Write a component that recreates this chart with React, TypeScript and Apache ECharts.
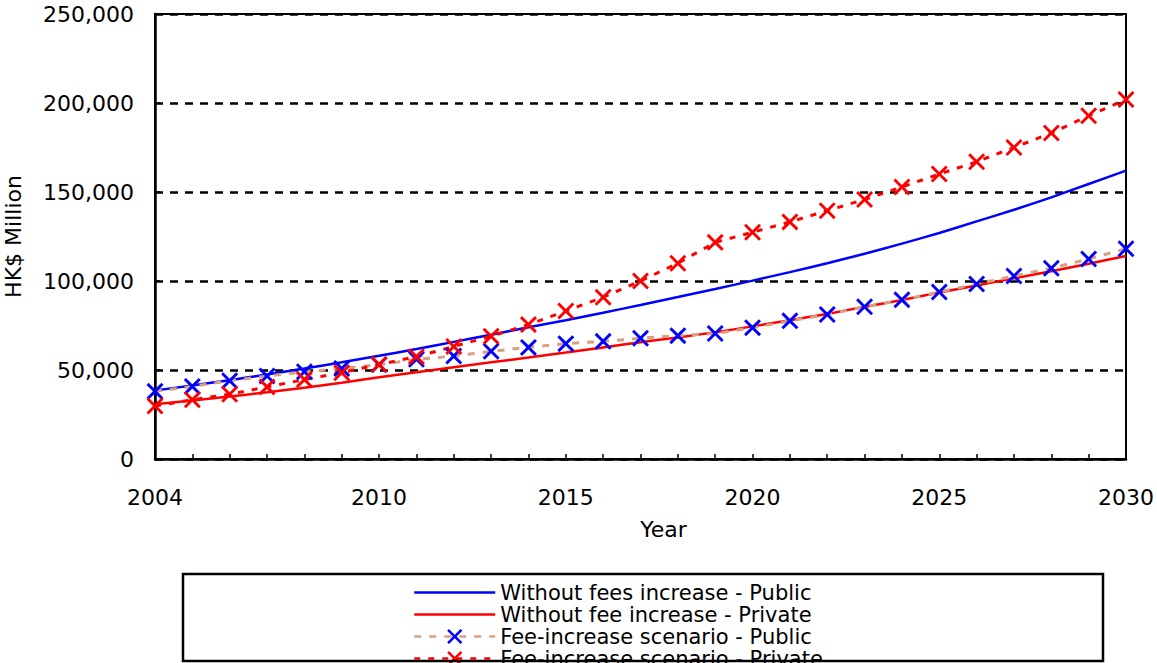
import React, { useEffect, useRef } from "react";
import * as echarts from "echarts";

const years = [2004, 2005, 2006, 2007, 2008, 2009, 2010, 2011, 2012, 2013, 2014, 2015, 2016, 2017, 2018, 2019, 2020, 2021, 2022, 2023, 2024, 2025, 2026, 2027, 2028, 2029, 2030];
const xTickLabels = [2004, 2010, 2015, 2020, 2025, 2030];

const seriesNames = [
  "Without fees increase - Public",
  "Without fee increase - Private",
  "Fee-increase scenario - Public",
  "Fee-increase scenario - Private",
];

const publicBase = [38500, 41300, 44300, 47500, 50800, 54300, 58000, 61800, 65800, 69800, 74000, 78000, 82200, 86500, 91000, 95500, 100200, 105000, 110000, 115300, 121000, 127000, 133500, 140000, 147000, 154500, 162000];
const privateBase = [30800, 32900, 35100, 37500, 40000, 42900, 45900, 48700, 51500, 54300, 57000, 59800, 62700, 65600, 68300, 71200, 74500, 78000, 81500, 85500, 89300, 93500, 97500, 101500, 105500, 109700, 114000];
const feePublic = [38000, 40800, 44000, 46600, 49000, 50800, 53000, 56000, 57800, 60500, 62700, 64800, 66100, 67800, 69300, 70500, 73800, 77600, 81200, 85500, 89400, 93800, 98300, 102800, 107200, 112400, 118100];
const feePrivate = [29800, 33300, 36400, 40500, 44600, 48500, 53100, 57500, 63200, 69000, 75500, 83100, 90900, 100000, 110000, 121700, 127400, 133200, 139500, 145800, 152800, 160100, 167000, 175000, 183100, 192800, 202000];

const X_PATH = "path://M0,12L12,0L50,38L88,0L100,12L62,50L100,88L88,100L50,62L12,100L0,88L38,50Z";
const FONT = "DejaVu Sans";

const pairs = (vals: number[]) => years.map((y, i) => [y, vals[i]]);

export default function App() {
  const ref = useRef<HTMLDivElement>(null);
  useEffect(() => {
    if (!ref.current) return;
    const chart = echarts.init(ref.current, undefined, { renderer: "svg" });
    chart.setOption({
      animation: false,
      backgroundColor: "#ffffff",
      grid: {
        left: 155,
        right: 31,
        top: 14,
        bottom: 241,
        show: true,
        borderColor: "#000",
        borderWidth: 2,
        containLabel: false,
        outerBoundsMode: "none",
      },
      xAxis: {
        type: "value",
        min: 2004,
        max: 2030,
        interval: 1,
        name: "Year",
        nameLocation: "middle",
        nameGap: 59,
        nameTextStyle: { color: "#000", fontFamily: FONT, fontSize: 22, padding: [0, 0, 0, 46] },
        axisLine: { show: true, lineStyle: { color: "#000", width: 2.5 } },
        axisTick: { show: true, inside: true, length: 5, lineStyle: { color: "#000", width: 1.5 } },
        splitLine: { show: false },
        axisLabel: {
          color: "#000",
          fontFamily: FONT,
          fontSize: 22,
          margin: 27,
          showMinLabel: true,
          showMaxLabel: true,
          formatter: (v: number) => (xTickLabels.indexOf(v) >= 0 ? String(v) : ""),
        },
      },
      yAxis: {
        type: "value",
        min: 0,
        max: 250000,
        interval: 50000,
        name: "HK$ Million",
        nameLocation: "middle",
        nameGap: 131,
        nameTextStyle: { color: "#000", fontFamily: FONT, fontSize: 22 },
        axisLine: { show: true, lineStyle: { color: "#000", width: 2.5 } },
        axisTick: { show: true, inside: true, length: 5, lineStyle: { color: "#000", width: 1.5 } },
        splitLine: { show: true, lineStyle: { color: "#000", width: 2.5, type: [8, 7] } },
        axisLabel: {
          color: "#000",
          fontFamily: FONT,
          fontSize: 22,
          margin: 21,
          formatter: (v: number) => v.toLocaleString("en-US"),
        },
      },
      legend: {
        orient: "vertical",
        left: 413,
        top: 581.5,
        padding: 0,
        itemGap: 0,
        itemWidth: 81,
        itemHeight: 19,
        lineStyle: { width: 2.5 },
        textStyle: { color: "#000", fontFamily: FONT, fontSize: 21, lineHeight: 22 },
        data: seriesNames,
      },
      graphic: [
        {
          type: "rect",
          z: 100,
          shape: { x: 183, y: 574, width: 920, height: 87 },
          style: { fill: "none", stroke: "#000", lineWidth: 2.5 },
        },
      ],
      series: [
        {
          name: seriesNames[0],
          type: "line",
          data: pairs(publicBase),
          symbol: "none",
          smooth: 0.2,
          lineStyle: { color: "#0000FF", width: 2.5 },
          itemStyle: { color: "#0000FF", opacity: 0 },
        },
        {
          name: seriesNames[1],
          type: "line",
          data: pairs(privateBase),
          symbol: "none",
          smooth: 0.2,
          lineStyle: { color: "#FF0000", width: 2.5 },
          itemStyle: { color: "#FF0000", opacity: 0 },
        },
        {
          name: seriesNames[2],
          type: "line",
          data: pairs(feePublic),
          symbol: X_PATH,
          symbolSize: 17,
          lineStyle: { color: "#D8A080", width: 3, type: [7, 8] },
          itemStyle: { color: "#0000FF" },
        },
        {
          name: seriesNames[3],
          type: "line",
          data: pairs(feePrivate),
          symbol: X_PATH,
          symbolSize: 17,
          lineStyle: { color: "#FF0000", width: 3, type: [6, 8] },
          itemStyle: { color: "#FF0000" },
        },
      ],
    });
    return () => chart.dispose();
  }, []);
  return (
    <div
      ref={ref}
      style={{ position: "fixed", left: 0, top: 0, width: 1157, height: 700, background: "#fff" }}
    />
  );
}
